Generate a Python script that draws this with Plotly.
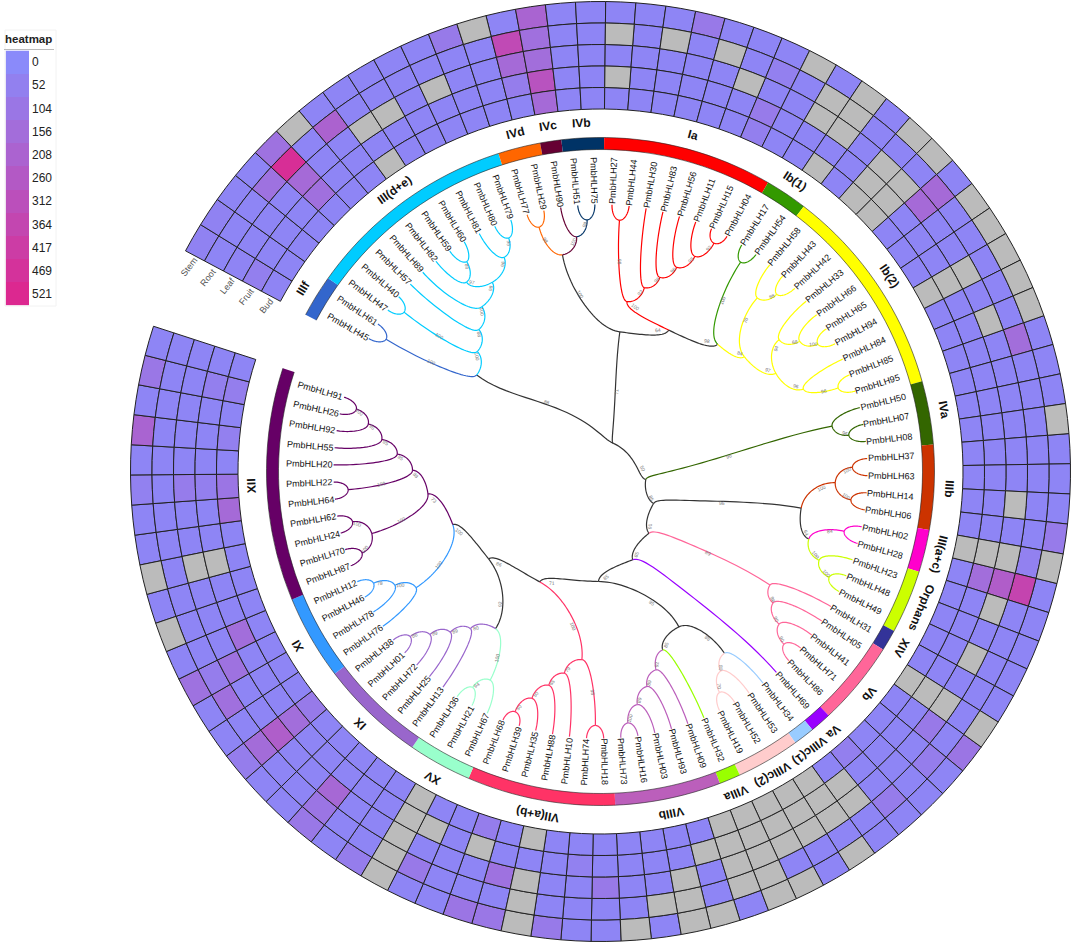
import math
import plotly.graph_objects as go

N = None  # no expression data, drawn grey

# Clades, clockwise from the gap at upper left
clade_names = ["IIIf", "III(d+e)", "IVd", "IVc", "IVb", "Ia", "Ib(1)", "Ib(2)", "IVa", "IIIb", "III(a+c)",
               "Orphans", "XIV", "Vb", "Va", "VIIIc(1)", "VIIIc(2)", "VIIIa", "VIIIb", "VII(a+b)", "XV", "IX",
               "XI", "XII"]
clade_sizes = [2, 10, 2, 1, 2, 8, 2, 10, 3, 4, 2, 3, 1, 4, 1, 1, 3, 1, 5, 7, 3, 5, 4, 11]
clade_colors = ["#3366CC", "#00CCFF", "#FF6600", "#660033", "#003366", "#FF0000", "#339900", "#FFFF00",
                "#336600", "#CC3300", "#FF00CC", "#CCFF00", "#333399", "#FF6699", "#9900FF", "#99CCFF",
                "#FFCCCC", "#99FF00", "#BB5FBB", "#FF3366", "#99FFCC", "#9966CC", "#3399FF", "#660066"]

gene_ids = ["45", "61", "47", "40", "57", "89", "82", "59", "60", "81", "80", "79", "77", "29", "90", "51", "75",
            "27", "44", "30", "83", "56", "11", "15", "04", "17", "54", "58", "43", "42", "33", "66", "65", "94",
            "84", "85", "95", "50", "07", "08", "37", "63", "14", "06", "02", "28", "23", "48", "49", "31", "05",
            "41", "71", "86", "69", "34", "53", "52", "19", "32", "09", "93", "03", "16", "73", "18", "74", "10",
            "88", "35", "39", "68", "67", "21", "36", "13", "25", "72", "01", "38", "76", "78", "46", "12", "87",
            "70", "24", "62", "64", "22", "20", "55", "92", "26", "91"]

# Expression per gene, same order as gene_ids
stem = [40, 40, 25, 25, 130, N, 25, 25, 25, 25,
        25, 85, N, 25, 200, 25, 25, 25, 25, 25,
        90, 25, 25, 25, N, 25, N, 25, N, N,
        25, N, N, N, N, N, 25, 25, 25, N,
        25, 25, 25, 80, N, 25, 25, 25, 25, 25,
        N, 110, 25, 25, 25, 25, N, 25, N, N,
        25, N, N, 25, N, 25, 25, 85, N, 100,
        110, 25, 25, N, 70, 25, 95, 25, 25, 70,
        25, 25, 130, 25, N, 25, N, 25, 25, 50,
        25, 200, 25, 100, 25]
root = [25, 25, 25, 130, 490, 25, 210, 25, 25, 25,
        25, 25, 25, 340, 140, 25, 25, N, 25, N,
        25, N, 25, 55, 25, N, N, 25, 25, 25,
        170, 25, 25, 25, 25, 25, 150, 25, 25, 25,
        25, 25, 25, 25, 50, 370, 25, 25, 25, 25,
        25, 25, 70, 25, 75, 25, 25, 25, 25, N,
        N, 25, N, N, 25, 25, 25, 25, N, 25,
        25, 25, 90, N, 25, 25, 110, 25, 25, 160,
        25, 140, 70, 25, 25, 25, 25, 25, 25, 25,
        25, 25, 25, 25, 25]
leaf = [30, 25, 25, 25, 170, 25, 25, N, N, 25,
        N, 25, 25, 170, 150, 25, 25, 25, 25, 25,
        25, 25, N, 25, 25, N, N, 25, N, N,
        170, 25, 25, N, 25, N, 25, 25, 25, 25,
        25, 25, N, 25, N, 240, N, 25, N, 25,
        N, 90, 25, 25, 25, N, N, N, N, N,
        N, 25, N, 25, 25, 90, 25, 25, N, 130,
        25, 25, 25, N, 25, 25, 180, 25, 25, 235,
        25, 25, 130, 25, 25, 25, N, 25, 25, 75,
        25, 25, 25, 25, 25]
fruit = [60, 25, 25, 25, 140, 25, 25, 25, 25, 25,
         25, 25, 25, 70, 290, 25, 25, N, 25, 25,
         25, 25, 25, 80, 25, 25, 25, 25, N, N,
         25, 25, 25, N, 25, 25, 25, 25, 25, 25,
         25, 25, 25, 25, N, 150, 25, 25, 25, 25,
         N, 25, 25, 25, 25, N, N, N, N, N,
         N, N, 25, 25, 25, 25, 50, 25, 25, 25,
         N, 25, N, N, 25, 25, 25, 25, 25, 150,
         25, 25, 25, 150, 25, 25, N, 25, 25, 60,
         25, 25, 25, 60, 25]
bud = [30, 25, 25, 25, 25, 25, 25, N, 25, 25,
       25, 25, 25, 25, 170, 25, 25, 25, 25, 25,
       25, 25, 25, 60, 25, 25, N, 25, N, N,
       25, 25, 25, N, 25, 25, 25, 25, 25, 25,
       25, 25, 25, 25, N, 25, 25, 25, 25, 25,
       N, 25, 25, 25, 60, 25, N, N, N, N,
       N, 25, 25, 25, 25, 25, 25, 25, N, 25,
       70, 25, 25, N, 25, 25, 25, 25, 25, 85,
       25, 25, 25, 25, 25, 25, 25, 25, 170, 110,
       25, 55, 25, 65, 25]
tissues = ["Stem", "Root", "Leaf", "Fruit", "Bud"]
legend_ticks = [0, 52, 104, 156, 208, 260, 312, 364, 417, 469, 521]

# Tree nodes: (distance from centre, bootstrap, children...), children are gene ids or other nodes
iiif = (252, 100, "45", "61")
iiide_a = (253, 100, "47", "40")
iiide_b = (249, 86, "59", "60")
iiide_c = (232, 97, "82", iiide_b)
iiide_d = (251, 96, "80", "79")
iiide_e = (235, 96, "81", iiide_d)
iiide_f = (218, 98, iiide_c, iiide_e)
iiide_g = (203, 100, "89", iiide_f)
iiide_h = (187, 88, "57", iiide_g)
iiide = (172, 100, iiide_a, iiide_h)
group_iii = (157, 88, iiif, iiide)

ivd = (252, 98, "77", "29")
ivb = (252, 98, "51", "75")
ivcb = (236, 100, "90", ivb)
group_iv = (220, 100, ivd, ivcb)

ia_a = (252, 88, "27", "44")
ia_b = (255, 92, "15", "04")
ia_c = (235, 95, "11", ia_b)
ia_d = (218, 96, "56", ia_c)
ia_e = (203, 96, "83", ia_d)
ia_f = (189, 92, "30", ia_e)
ia = (172, 100, ia_a, ia_f)
ib1 = (252, 100, "17", "54")
ib2_a = (250, 88, "43", "42")
ib2_b = (234, 70, "58", ib2_a)
ib2_c = (252, 100, "65", "94")
ib2_d = (238, 68, "66", ib2_c)
ib2_e = (222, 94, "33", ib2_d)
ib2_f = (252, 96, "85", "95")
ib2_g = (219, 96, "84", ib2_f)
ib2_h = (201, 97, ib2_e, ib2_g)
ib2 = (184, 84, ib2_b, ib2_h)
group_ib = (173, 98, ib1, ib2)
group_i = (157, 64, ia, group_ib)
group_top = (141, 71, group_iv, group_i)

iva_a = (251, 96, "07", "08")
iva = (236, 96, "50", iva_a)
iiib_a = (252, 100, "37", "63")
iiib_b = (252, 100, "14", "06")
iiib = (235, 100, iiib_a, iiib_b)
iiiac = (251, 84, "02", "28")
orph_a = (252, 100, "48", "49")
orph = (236, 100, "23", orph_a)
group_ac = (219, 64, iiiac, orph)
group_iiib = (204, 96, iiib, group_ac)
vb_a = (252, 90, "71", "86")
vb_b = (235, 90, "41", vb_a)
vb_c = (217, 98, "05", vb_b)
group_vb = (204, 89, "31", vb_c)
viiic_a = (251, 70, "52", "19")
viiic_b = (233, 80, "53", viiic_a)
viiic = (220, 88, "34", viiic_b)
viiib_a = (253, 100, "16", "73")
viiib_b = (236, 89, "03", viiib_a)
viiib_c = (220, 89, "93", viiib_b)
viiib = (206, 92, "09", viiib_c)
group_viiia = (189, 85, "32", viiib)
group_viii = (174, 95, viiic, group_viiia)
vii_a = (254, 98, "18", "74")
vii_b = (255, 50, "39", "68")
vii_c = (237, 50, "35", vii_b)
vii_d = (220, 65, "88", vii_c)
vii_e = (205, 79, "10", vii_d)
vii = (189, 100, vii_a, vii_e)
xv_a = (251, 94, "21", "36")
xv = (236, 100, "67", xv_a)
ix_a = (252, 86, "01", "38")
ix_b = (236, 89, "72", ix_a)
ix_c = (220, 89, "25", ix_b)
ix = (204, 80, "13", ix_c)
group_ix = (189, 92, xv, ix)
xi_a = (253, 78, "46", "12")
xi_b = (235, 100, "78", xi_a)
xi = (218, 100, "76", xi_b)
xii_a = (252, 100, "87", "70")
xii_b = (253, 100, "24", "62")
xii_c = (237, 100, xii_a, xii_b)
xii_d = (253, 100, "64", "22")
xii_e = (252, 100, "26", "91")
xii_f = (237, 95, "92", xii_e)
xii_g = (221, 85, "55", xii_f)
xii_h = (204, 85, "20", xii_g)
xii_i = (188, 88, xii_d, xii_h)
xii = (174, 73, xii_c, xii_i)
group_xi = (157, 100, xi, xii)
group_l = (142, 86, group_ix, group_xi)
group_k = (126, 71, vii, group_l)
group_i2 = (110, 85, group_viii, group_k)
group_h = (94, 85, "69", group_i2)
group_g = (78.5, 91, group_vb, group_h)
group_e = (62, 85, group_iiib, group_g)
group_d = (46, 50, iva, group_e)
tree = (31, None, group_iii, group_top, group_d)

# Layout of the wheel, pixels on the page
W, H = 1072, 944
CX, CY = 600.5, 471.5
R_MAX = 471.5
START, SPAN = -62.0, 350.0
STEP = SPAN / len(gene_ids)
R_HEAT_IN, R_HEAT_OUT = 362.5, 470.0
ROW_H = (R_HEAT_OUT - R_HEAT_IN) / 5
R_RING_IN, R_RING_OUT = 322.0, 334.0
R_TIP = 267.0
COLORSCALE = [[0, "#8A8AFA"], [1, "#DC2890"]]
FONT = "Liberation Sans"
# crowded clade labels sit a little off the middle of their sector
LABEL_SHIFT = {"Va": -0.7, "VIIIc(1)": 0.7, "VIIIc(2)": 0.5}


def to_paper(theta, r):
    a = math.radians(theta)
    return (CX + r * math.sin(a)) / W, 1 - (CY - r * math.cos(a)) / H


def label(theta, r, text, size, angle, color="#111111", bold=False):
    x, y = to_paper(theta, r)
    return dict(x=x, y=y, xref="paper", yref="paper", text=f"<b>{text}</b>" if bold else text, showarrow=False,
                textangle=angle, xanchor="center", yanchor="middle", font=dict(family=FONT, size=size, color=color))


gene_theta = {g: START + (i + 0.5) * STEP for i, g in enumerate(gene_ids)}
gene_color = {}
pos = 0
for size, color in zip(clade_sizes, clade_colors):
    for g in gene_ids[pos:pos + size]:
        gene_color[g] = color
    pos += size
# the XIV gene hangs off the Vb branch and is drawn in its colour
gene_color["31"] = "#FF6699"


def node_theta(n):
    if isinstance(n, str):
        return gene_theta[n]
    return (node_theta(n[2]) + node_theta(n[-1])) / 2


def leaves(n):
    if isinstance(n, str):
        return [n]
    return [g for kid in n[2:] for g in leaves(kid)]


def edge_color(n):
    if n is ivcb:
        return "#660033"
    colors = {gene_color[g] for g in leaves(n)}
    return colors.pop() if len(colors) == 1 else "#333333"


def curve(t0, r0, t1, r1, u):
    # leaves the parent along the circle and reaches the child along the radius
    a = u * math.pi / 2
    return t0 + (t1 - t0) * math.sin(a), r0 + (r1 - r0) * (1 - math.cos(a))


edges = {}
annotations = []


def walk(n):
    t0, r0 = node_theta(n), n[0]
    for kid in n[2:]:
        t1 = node_theta(kid)
        r1 = R_TIP if isinstance(kid, str) else kid[0]
        pts = [curve(t0, r0, t1, r1, k / 30) for k in range(31)]
        store = edges.setdefault(edge_color(kid), ([], []))
        store[0].extend([p[0] for p in pts] + [None])
        store[1].extend([p[1] for p in pts] + [None])
        if not isinstance(kid, str):
            ta, ra = curve(t0, r0, t1, r1, 0.6)
            tb, rb = curve(t0, r0, t1, r1, 0.7)
            xa, ya = to_paper(ta, ra)
            xb, yb = to_paper(tb, rb)
            ang = math.degrees(math.atan2(-(yb - ya) * H, (xb - xa) * W))
            if ang > 90:
                ang -= 180
            if ang < -90:
                ang += 180
            annotations.append(label(ta, ra + 5, str(kid[1]), 5, ang, color="#777777"))
            walk(kid)


walk(tree)

fig = go.Figure()

# Heatmap cells
theta_cells, base_cells, value_cells, theta_grey, base_grey = [], [], [], [], []
for row, values in enumerate([stem, root, leaf, fruit, bud]):
    base = R_HEAT_OUT - (row + 1) * ROW_H
    for g, v in zip(gene_ids, values):
        if v is None:
            theta_grey.append(gene_theta[g])
            base_grey.append(base)
        else:
            theta_cells.append(gene_theta[g])
            base_cells.append(base)
            value_cells.append(v)

fig.add_trace(go.Barpolar(theta=theta_cells, r=[ROW_H] * len(theta_cells), base=base_cells, width=STEP,
                          marker=dict(color=value_cells, colorscale=COLORSCALE, cmin=0, cmax=521,
                                      line=dict(color="#222222", width=1)), hoverinfo="skip"))
fig.add_trace(go.Barpolar(theta=theta_grey, r=[ROW_H] * len(theta_grey), base=base_grey, width=STEP,
                          marker=dict(color="#BBBBBB", line=dict(color="#222222", width=1)), hoverinfo="skip"))

# Clade ring
pos = 0
ring_theta, ring_width = [], []
for size in clade_sizes:
    ring_theta.append(START + (pos + size / 2) * STEP)
    ring_width.append(size * STEP)
    pos += size
fig.add_trace(go.Barpolar(theta=ring_theta, r=[R_RING_OUT - R_RING_IN] * len(clade_sizes),
                          base=[R_RING_IN] * len(clade_sizes), width=ring_width,
                          marker=dict(color=clade_colors, line=dict(width=0)), hoverinfo="skip"))
arc_theta = [START + SPAN * k / 200 for k in range(201)]
for r in (R_RING_IN, R_RING_OUT):
    fig.add_trace(go.Scatterpolar(theta=arc_theta, r=[r] * len(arc_theta), mode="lines",
                                  line=dict(color="#222222", width=0.6), hoverinfo="skip"))

# Tree branches
for color, (t, r) in edges.items():
    fig.add_trace(go.Scatterpolar(theta=t, r=r, mode="lines", connectgaps=False,
                                  line=dict(color=color, width=1.2), hoverinfo="skip"))

# Gene labels read outward on the right half, inward on the left half
for g in gene_ids:
    t = gene_theta[g]
    ang = t - 90 if 0 <= t < 180 else t - 270
    annotations.append(label(t, 291, "PmbHLH" + g, 9, ang))

# Clade labels follow the circle
for name, t in zip(clade_names, ring_theta):
    t += LABEL_SHIFT.get(name, 0)
    annotations.append(label(t, 349, name, 12, t, color="#111111", bold=True))

# Tissue names at the start of the heatmap
for row, name in enumerate(tissues):
    annotations.append(label(START - 1.6, R_HEAT_OUT - (row + 0.5) * ROW_H, name, 9, -52, color="#555555"))

# Legend
fig.add_trace(go.Heatmap(z=[[v] for v in legend_ticks], x=["heatmap"], y=[str(v) for v in legend_ticks],
                         zmin=0, zmax=521, colorscale=COLORSCALE, showscale=False, hoverinfo="skip",
                         xaxis="x", yaxis="y"))
annotations.append(dict(x=29 / W, y=1 - 38.5 / H, xref="paper", yref="paper", text="<b>heatmap</b>", showarrow=False,
                        xanchor="center", yanchor="middle", font=dict(family=FONT, size=11.5, color="#222222")))

fig.update_layout(
    width=W, height=H, margin=dict(l=0, r=0, t=0, b=0), paper_bgcolor="white", plot_bgcolor="white",
    showlegend=False, annotations=annotations,
    polar=dict(domain=dict(x=[(CX - R_MAX) / W, (CX + R_MAX) / W], y=[1 - (CY + R_MAX) / H, 1 - (CY - R_MAX) / H]),
               bgcolor="rgba(0,0,0,0)", barmode="overlay", bargap=0,
               angularaxis=dict(visible=False, rotation=90, direction="clockwise"),
               radialaxis=dict(visible=False, range=[0, R_MAX])),
    xaxis=dict(domain=[5.5 / W, 29 / W], visible=False, fixedrange=True),
    yaxis=dict(domain=[1 - 305.5 / H, 1 - 50.5 / H], type="category", autorange="reversed", side="right",
               showgrid=False, zeroline=False, showline=False, ticks="", ticklabelstandoff=2,
               tickfont=dict(family=FONT, size=12, color="#222222"), fixedrange=True),
    shapes=[dict(type="rect", xref="paper", yref="paper", x0=5 / W, x1=56 / W, y0=1 - 306 / H, y1=1 - 30 / H,
                 line=dict(color="#F2F2F2", width=1)),
            dict(type="line", xref="paper", yref="paper", x0=4 / W, x1=54 / W, y0=1 - 49.5 / H, y1=1 - 49.5 / H,
                 line=dict(color="#BBBBBB", width=1))],
)

# the page's default body margin would push the fixed-size figure 8px off
fig.write_html("out.html", config=dict(displayModeBar=False),
               post_script="document.body.style.margin = '0'; document.body.style.overflow = 'hidden';")
